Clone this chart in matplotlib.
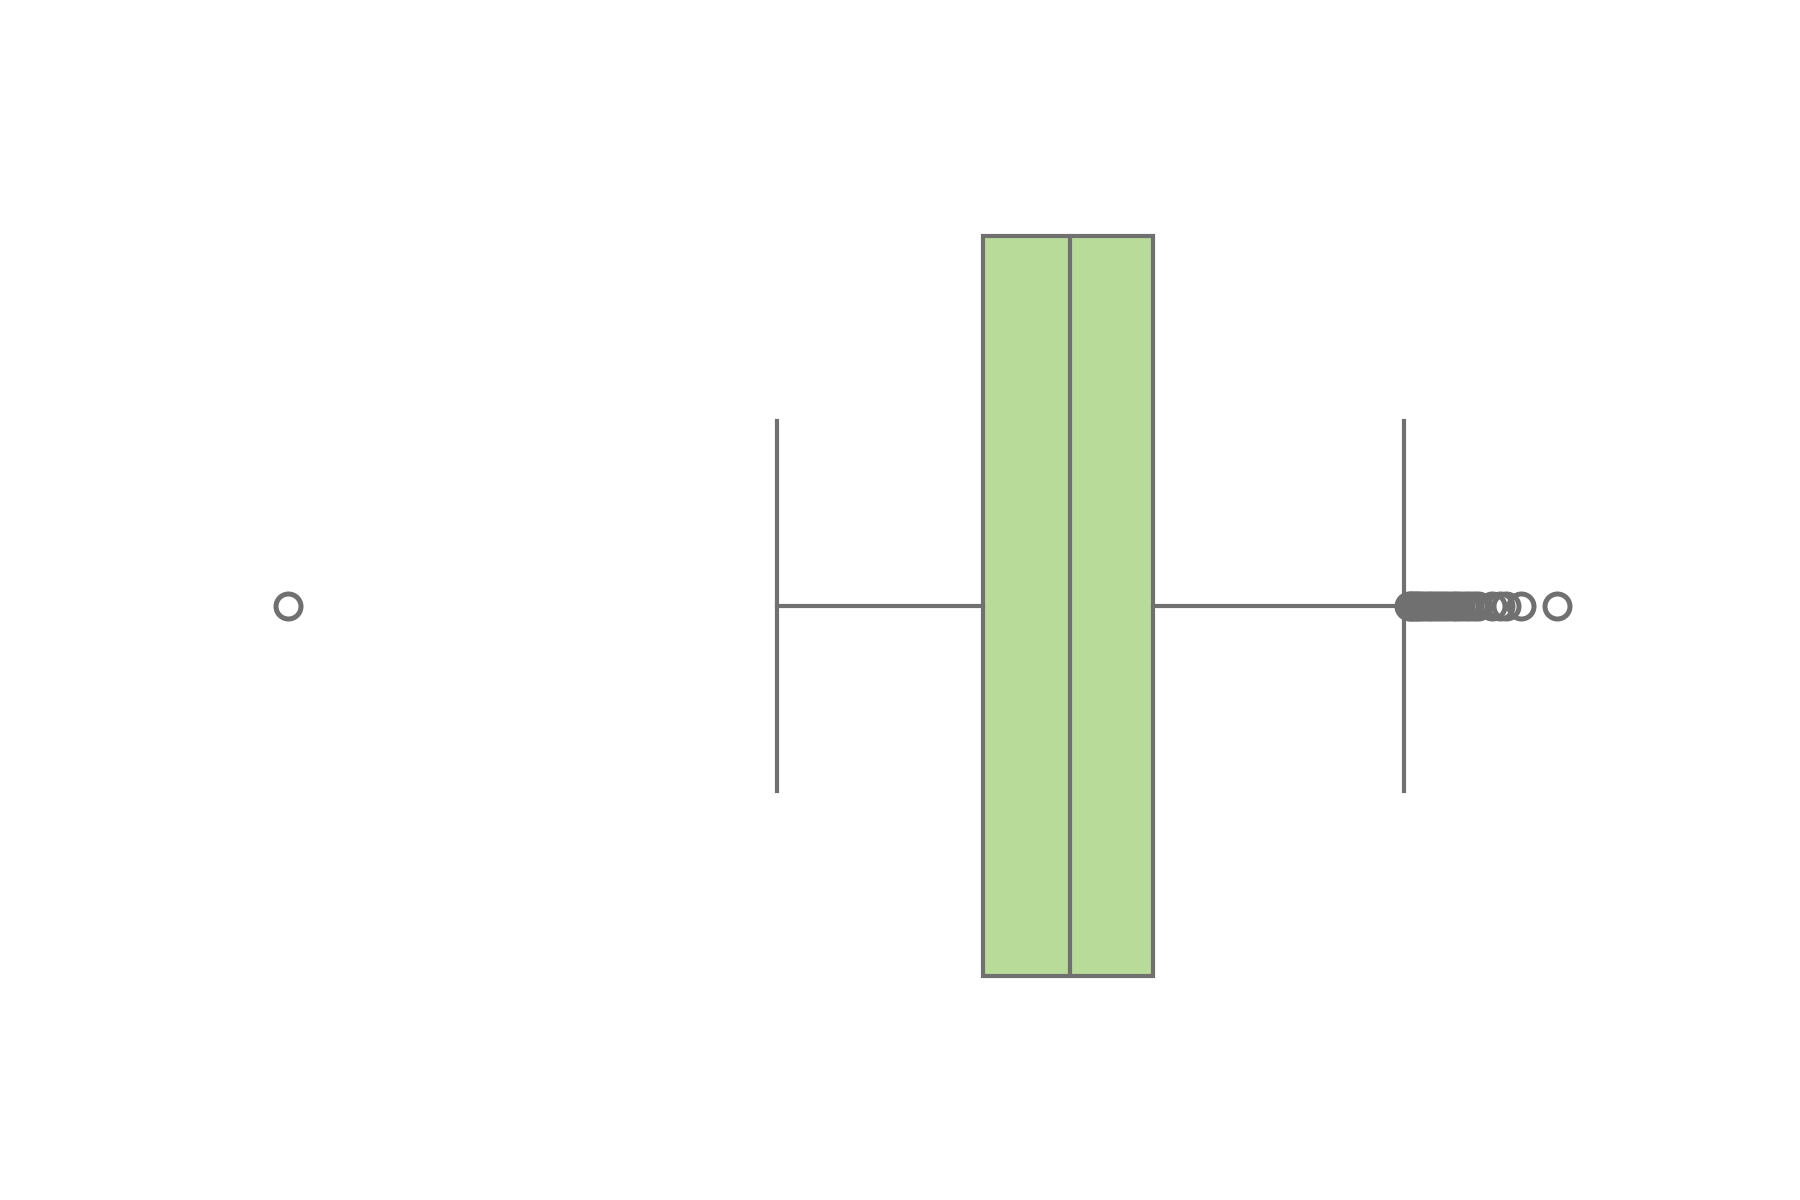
import matplotlib
matplotlib.use("Agg")
import matplotlib.pyplot as plt

# Box statistics (arbitrary units, axis hidden in the reference)
q1 = 54.8
median = 61.6
q3 = 68.2
whisker_low = 38.5
whisker_high = 88.0
low_fliers = [0.0]
high_fliers = [88.4, 88.5, 88.7, 88.9, 89.1, 89.3, 89.6, 89.9, 90.2, 90.5,
               90.8, 91.1, 91.4, 91.8, 92.1, 92.4, 92.8, 93.1, 93.5, 93.8,
               94.9, 95.5, 96.0, 97.2, 100.0]

fill_color = "#b8db99"
line_color = "#707070"

stats = [dict(q1=q1, med=median, q3=q3, whislo=whisker_low, whishi=whisker_high,
              fliers=low_fliers + high_fliers, label="")]

fig, ax = plt.subplots(figsize=(6, 4), dpi=300)
ax.bxp(stats, positions=[0], widths=0.8, vert=False, patch_artist=True,
       boxprops=dict(facecolor=fill_color, edgecolor=line_color, linewidth=1.0),
       medianprops=dict(color=line_color, linewidth=1.0),
       whiskerprops=dict(color=line_color, linewidth=1.0),
       capprops=dict(color=line_color, linewidth=1.0),
       capwidths=0.4,
       flierprops=dict(marker="o", markerfacecolor="none", markeredgecolor=line_color,
                       markersize=6, markeredgewidth=1.2))
ax.set_ylim(0.5, -0.5)
ax.axis("off")
fig.savefig("out.png", dpi=300)
